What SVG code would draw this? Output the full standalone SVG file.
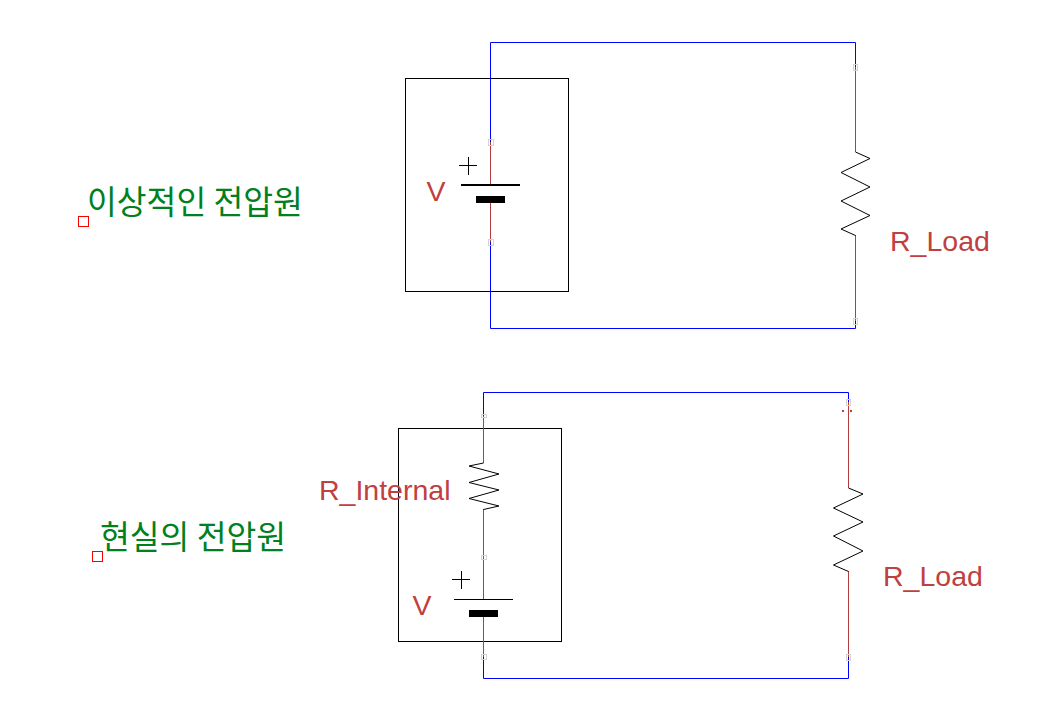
<svg xmlns="http://www.w3.org/2000/svg" width="1053" height="715" viewBox="0 0 1053 715">
<style>
.wire{fill:none;stroke:#0000ff;stroke-width:1}
.lead{fill:none;stroke:#b33c3c;stroke-width:1}
.blk{fill:none;stroke:#000;stroke-width:1}
.box{fill:#fff;stroke:#000;stroke-width:1}
.pin{fill:none;stroke:#d4d4d4;stroke-width:1}
.anc{fill:none;stroke:#ff0000;stroke-width:1}
.lbl{font-family:"Liberation Sans",Arial,sans-serif;font-size:28.5px;fill:#c04040}
.ko{font-family:"Noto Sans CJK KR","Noto Sans",sans-serif;font-size:32.4px;fill:#008020}
</style>
<rect width="1053" height="715" fill="#fff"/>
<g id="box-ideal"><rect class="box" x="405.500" y="78.500" width="163" height="213"/></g>
<g id="box-real"><rect class="box" x="398.500" y="428.500" width="163" height="213"/></g>
<g id="connectors">
<path class="wire" d="M490.500 142V42.500H855.500V67"/>
<path class="wire" d="M490.500 242V328.500H855.500V321"/>
<path class="lead" d="M490.500 142V185M490.500 199V242"/>
<path class="lead" d="M855.500 67V152M855.500 235V321"/>
<path class="wire" d="M483.500 416V392.500H848.500V402"/>
<path class="wire" d="M483.500 657V678.500H848.500V657"/>
<path class="lead" d="M483.500 416V463M483.500 509V599M483.500 613V657"/>
<path class="lead" d="M848.500 402V488M848.500 571V657"/>
</g>
<g id="source-ideal">
<path class="blk" d="M459 165.500H477M468.500 157V175"/>
<path d="M461 185H520" stroke="#000" stroke-width="2" fill="none"/>
<rect x="476" y="196" width="29" height="7" fill="#000"/>
<rect class="pin" x="488.500" y="139.500" width="5" height="6"/>
<rect class="pin" x="488.500" y="239.500" width="5" height="6"/>
<text class="lbl" x="426.500" y="201">V</text>
</g>
<g id="load-ideal">
<path class="blk" d="M855.500 152L870 158.500L841 172.500L870 187L841 201L870 215.500L841 229L855.500 235.500"/>
<rect class="pin" x="853.500" y="64.500" width="4" height="6"/>
<rect class="pin" x="853.500" y="318.500" width="4" height="6"/>
<text class="lbl" x="890" y="251">R_Load</text>
</g>
<g id="resistor-internal">
<path class="blk" d="M483.500 463L469 466L499 474L469 482.500L499 490L469 498.500L499 506L483.500 509.500"/>
<text class="lbl" x="319" y="500">R_Internal</text>
</g>
<g id="source-real">
<path class="blk" d="M452 579.500H470M461.500 571V589"/>
<path class="blk" d="M454 599.500H513"/>
<rect x="469" y="610" width="29" height="7" fill="#000"/>
<rect class="pin" x="481.500" y="414.500" width="5" height="3"/>
<rect class="pin" x="481.500" y="555.500" width="5" height="4"/>
<rect class="pin" x="481.500" y="654.500" width="5" height="5"/>
<text class="lbl" x="412.500" y="615">V</text>
</g>
<g id="load-real">
<path class="blk" d="M848.500 488L863 494L833.500 508L863 522L833.500 536L863 551L833.500 565L848.500 571.500"/>
<rect class="pin" x="846.500" y="399.500" width="4" height="6"/>
<rect class="pin" x="846.500" y="654.500" width="4" height="6"/>
<rect x="842" y="410" width="2" height="2" fill="#c04040"/>
<rect x="850" y="410" width="2" height="2" fill="#c04040"/>
<text class="lbl" x="883" y="586">R_Load</text>
</g>
<g id="label-ideal">
<rect class="anc" x="78.500" y="216.500" width="10" height="10"/>
<text class="ko" x="87" y="214">이상적인 전압원</text>
</g>
<g id="label-real">
<rect class="anc" x="92.500" y="551.500" width="10" height="10"/>
<text class="ko" x="100" y="549">현실의 전압원</text>
</g>
</svg>
